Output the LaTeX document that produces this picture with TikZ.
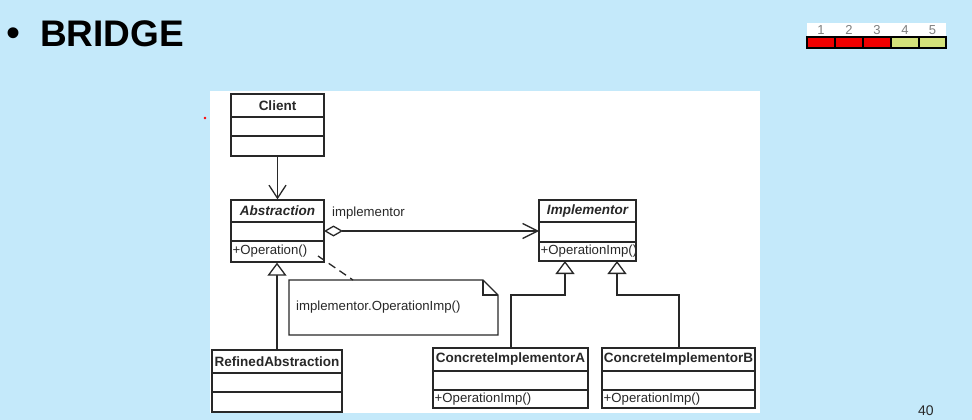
\documentclass[tikz,border=0pt]{standalone}
\usepackage{fontspec}
\setmainfont{Liberation Sans}
\usetikzlibrary{arrows.meta}
\definecolor{bg}{RGB}{196,233,250}
\definecolor{ink}{RGB}{40,40,40}
\definecolor{barred}{RGB}{240,0,0}
\definecolor{baryel}{RGB}{212,226,122}
\tikzset{
  box/.style={draw=ink, line width=1.3pt, fill=white, inner sep=0pt},
  clsname/.style={font=\fontsize{13.5}{15}\selectfont\bfseries, text=ink, inner sep=0pt},
  optext/.style={font=\fontsize{13.2}{15}\selectfont, text=ink, inner sep=0pt, anchor=west},
  conn/.style={draw=ink, line width=1.3pt},
  assoc/.style={conn, -{Straight Barb[length=13pt, width=17pt, line width=1.3pt]}},
  gen/.style={conn, -{Triangle[open, length=13pt, width=19pt, line width=1.3pt, fill=white]}},
  agg/.style={conn, {Diamond[open, length=19pt, width=11pt, line width=1.3pt, fill=white]}-{Straight Barb[length=15pt, width=15pt, line width=1.3pt]}},
}
\newcommand\umlcls[9]{%
  % #1 name, #2 x1, #3 x2, #4 y1, #5 y2, #6 d1, #7 d2, #8 title, #9 op
  \node[box, minimum width=#3-#2, minimum height=#5-#4] (#1) at ({(#2+#3)/2},{-(#4+#5)/2}) {};
  \draw[conn] (#2,-#6) -- (#3,-#6);
  \draw[conn] (#2,-#7) -- (#3,-#7);
  \node[clsname] (#1-t) at ({(#2+#3)/2},{-(#4+#6)/2}) {#8};
  \node[optext] (#1-o) at ({#2+1.5},{-(#7+#5)/2}) {#9};
}
\begin{document}
\begin{tikzpicture}[x=1pt,y=1pt]
\useasboundingbox (0,0) rectangle (972,-420);
\fill[bg] (0,0) rectangle (972,-420);

% title
\node[anchor=base, inner sep=0pt, font=\fontsize{40}{40}\selectfont] (bullet) at (14,-47) {•};
\node[anchor=base west, inner sep=0pt, font=\fontsize{37}{37}\selectfont\bfseries] (title) at (40,-47) {BRIDGE};

% progress bar
\fill[white] (807,-23) rectangle (946,-37);
\foreach \i/\xa/\xb/\c in {1/807/835/barred,2/835/863/barred,3/863/891/barred,4/891/919/baryel,5/919/946/baryel}{
  \node[anchor=base, inner sep=0pt, font=\fontsize{13}{13}\selectfont, text=gray] (n\i) at ({(\xa+\xb)/2},-35) {\i};
  \fill[\c] (\xa,-37) rectangle (\xb,-48);
  \draw[black, line width=1.4pt] (\xa,-37) rectangle (\xb,-48);
}

% page number
\node[anchor=north west, inner sep=0pt, font=\fontsize{14}{14}\selectfont, text=ink] (pg) at (918,-406) {40};

% red dot
\fill[red] (205,-118) circle (1.3);

% panel
\fill[white] (210,-91) rectangle (760,-413);

% classes
\umlcls{client}{231}{324}{94}{156}{117}{136}{Client}{}
\umlcls{abs}{231}{324}{200}{262}{222}{241}{\itshape Abstraction}{+Operation()}
\umlcls{impl}{539}{636}{200}{261}{222}{242}{\itshape Implementor}{+OperationImp()}
\umlcls{refined}{212}{342}{350}{412}{373}{392}{RefinedAbstraction}{}
\umlcls{cia}{433}{588}{348}{408}{371}{390}{ConcreteImplementorA}{+OperationImp()}
\umlcls{cib}{602}{755}{348}{408}{371}{390}{ConcreteImplementorB}{+OperationImp()}

% note
\draw[conn, fill=white] (289,-280) -- (483,-280) -- (498,-295) -- (498,-335) -- (289,-335) -- cycle;
\draw[conn] (483,-280) -- (483,-295) -- (498,-295);
\node[optext] (notetxt) at (296,-307) {implementor.OperationImp()};

% connectors
\draw[assoc] (client.south) -- (abs.north);
\coordinate (aggS) at (324,-231);
\coordinate (aggE) at (539,-231);
\draw[agg] (aggS) -- (aggE);
\node[optext, anchor=base west] (implbl) at (332,-216) {implementor};
\coordinate (dashS) at (318,-256);
\coordinate (dashE) at (353,-280);
\draw[conn, dash pattern=on 8pt off 5pt] (dashS) -- (dashE);
\draw[gen] (refined.north) -- (refined.north |- abs.south);
\coordinate (ia) at (565,-261);
\coordinate (ib) at (617,-261);
\draw[gen] (cia.north -| 511,0) |- (565,-295) -- (ia);
\draw[gen] (cib.north -| 679,0) |- (617,-295) -- (ib);
\end{tikzpicture}
\end{document}
